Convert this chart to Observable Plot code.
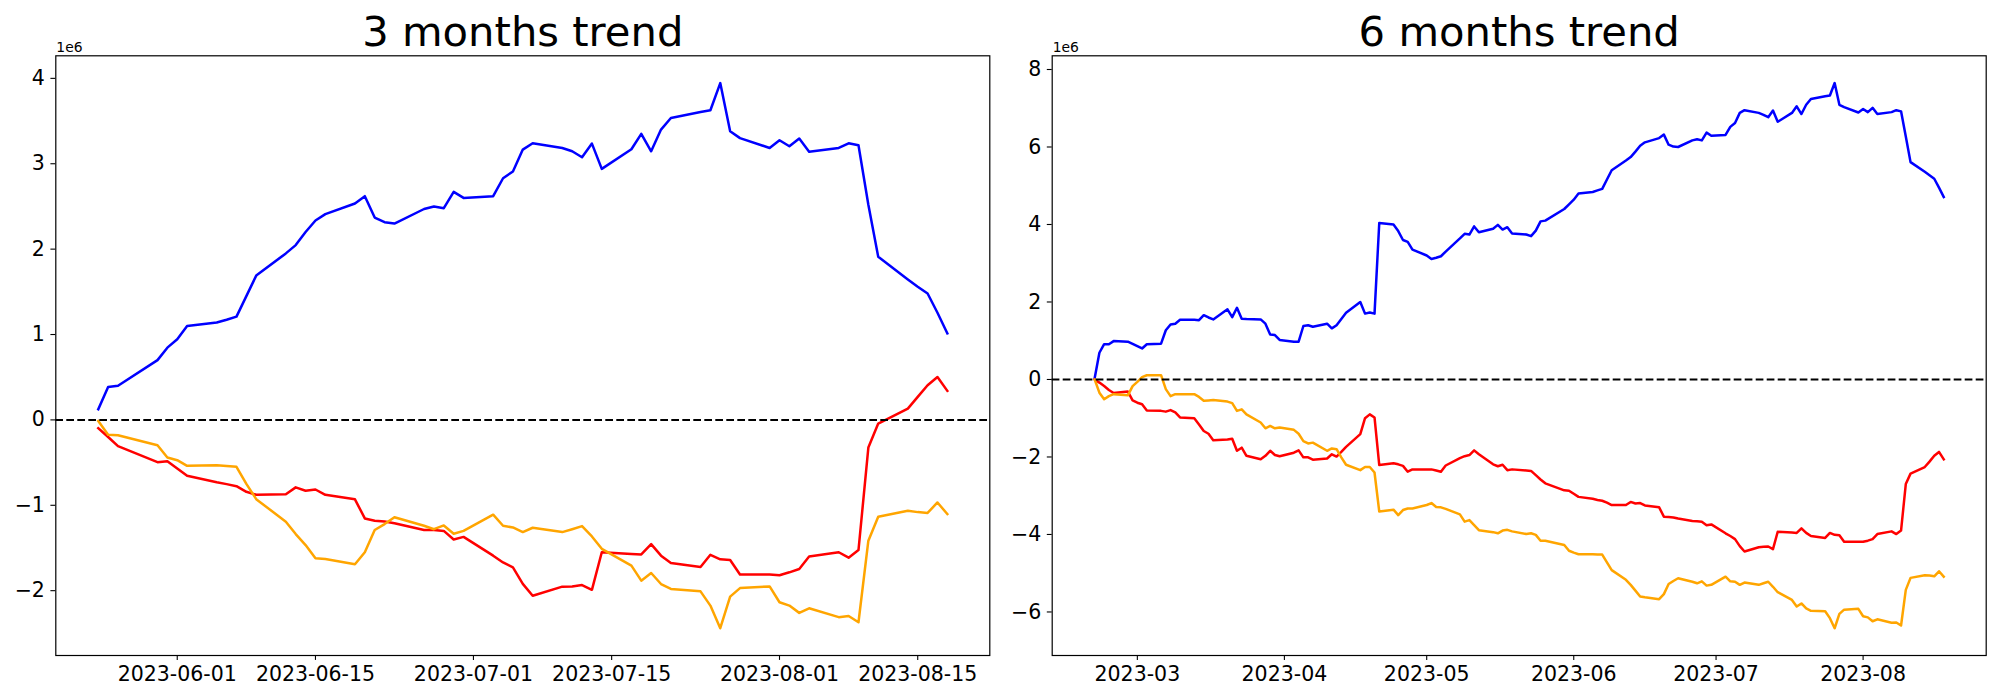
<!DOCTYPE html>
<html>
<head>
<meta charset="utf-8">
<script src="https://cdn.jsdelivr.net/npm/d3@7"></script>
<script src="https://cdn.jsdelivr.net/npm/@observablehq/plot@0.6"></script>
<style>
  html, body { margin: 0; padding: 0; background: #ffffff; }
  #wrap { position: relative; width: 2000px; height: 700px; background: #ffffff; overflow: hidden; }
  .panel { position: absolute; top: 0; width: 1000px; height: 700px; }
  #p1 { left: 0; }
  #p2 { left: 1000px; }
</style>
</head>
<body>
<div id="wrap"><div class="panel" id="p1"></div><div class="panel" id="p2"></div></div>
<script>
// ---------- 3 months panel data (values in units of 1e6) ----------
const dates3m = [
  "2023-05-24","2023-05-25","2023-05-26","2023-05-30","2023-05-31",
  "2023-06-01","2023-06-02","2023-06-05","2023-06-06","2023-06-07","2023-06-08","2023-06-09","2023-06-12","2023-06-13","2023-06-14","2023-06-15","2023-06-16","2023-06-19","2023-06-20","2023-06-21","2023-06-22","2023-06-23","2023-06-26","2023-06-27","2023-06-28","2023-06-29","2023-06-30",
  "2023-07-03","2023-07-04","2023-07-05","2023-07-06","2023-07-07","2023-07-10","2023-07-11","2023-07-12","2023-07-13","2023-07-14","2023-07-17","2023-07-18","2023-07-19","2023-07-20","2023-07-21","2023-07-24","2023-07-25","2023-07-26","2023-07-27","2023-07-28","2023-07-31",
  "2023-08-01","2023-08-02","2023-08-03","2023-08-04","2023-08-07","2023-08-08","2023-08-09","2023-08-10","2023-08-11","2023-08-14","2023-08-15","2023-08-16","2023-08-17","2023-08-18"
];
const blue3m = [
  0.125, 0.386, 0.40, 0.70, 0.846,
  0.944, 1.10, 1.14, 1.173, 1.21, 1.45, 1.69, 1.95, 2.047, 2.20, 2.336, 2.41, 2.534, 2.62, 2.37, 2.316, 2.30, 2.47, 2.50, 2.48, 2.67, 2.60,
  2.62, 2.83, 2.91, 3.166, 3.24, 3.185, 3.146, 3.076, 3.236, 2.94, 3.17, 3.35, 3.146, 3.40, 3.536, 3.606, 3.626, 3.945, 3.38, 3.30, 3.185,
  3.275, 3.205, 3.295, 3.14, 3.185, 3.24, 3.216, 2.52, 1.91, 1.645, 1.56, 1.48, 1.255, 1.014
];
const red3m = [
  -0.097, -0.20, -0.308, -0.495, -0.483,
  -0.57, -0.655, -0.73, -0.752, -0.776, -0.842, -0.877, -0.87, -0.79, -0.83, -0.815, -0.877, -0.93, -1.154, -1.18, -1.19, -1.21, -1.29, -1.29, -1.30, -1.40, -1.37,
  -1.59, -1.67, -1.727, -1.92, -2.06, -1.953, -1.95, -1.934, -1.99, -1.55, -1.57, -1.575, -1.455, -1.59, -1.677, -1.723, -1.58, -1.633, -1.64, -1.81, -1.81,
  -1.82, -1.785, -1.746, -1.60, -1.55, -1.614, -1.525, -0.324, -0.043, 0.132, 0.27, 0.406, 0.503, 0.34
];
const orange3m = [
  -0.012, -0.175, -0.18, -0.296, -0.44,
  -0.472, -0.538, -0.53, -0.54, -0.55, -0.75, -0.928, -1.193, -1.337, -1.466, -1.62, -1.63, -1.69, -1.55, -1.29, -1.22, -1.14, -1.24, -1.28, -1.236, -1.333, -1.30,
  -1.11, -1.24, -1.26, -1.314, -1.263, -1.314, -1.28, -1.244, -1.365, -1.51, -1.707, -1.883, -1.793, -1.922, -1.98, -2.008, -2.175, -2.44, -2.07, -1.97, -1.95,
  -2.136, -2.175, -2.26, -2.206, -2.31, -2.296, -2.37, -1.415, -1.134, -1.064, -1.08, -1.09, -0.967, -1.103
];
const xTicks3m = ["2023-06-01","2023-06-15","2023-07-01","2023-07-15","2023-08-01","2023-08-15"];
const yTicks3m = [-2, -1, 0, 1, 2, 3, 4];

// ---------- 6 months panel data (values in units of 1e6) ----------
const dates6m = [
  "2023-02-20","2023-02-21","2023-02-22","2023-02-23","2023-02-24","2023-02-27","2023-02-28",
  "2023-03-01","2023-03-02","2023-03-03","2023-03-06","2023-03-07","2023-03-08","2023-03-09","2023-03-10","2023-03-13","2023-03-14","2023-03-15","2023-03-16","2023-03-17","2023-03-20","2023-03-21","2023-03-22","2023-03-23","2023-03-24","2023-03-27","2023-03-28","2023-03-29","2023-03-30","2023-03-31",
  "2023-04-03","2023-04-04","2023-04-05","2023-04-06","2023-04-07","2023-04-10","2023-04-11","2023-04-12","2023-04-13","2023-04-14","2023-04-17","2023-04-18","2023-04-19","2023-04-20","2023-04-21","2023-04-24","2023-04-25","2023-04-26","2023-04-27","2023-04-28",
  "2023-05-01","2023-05-02","2023-05-03","2023-05-04","2023-05-05","2023-05-08","2023-05-09","2023-05-10","2023-05-11","2023-05-12","2023-05-15","2023-05-16","2023-05-17","2023-05-18","2023-05-19","2023-05-22","2023-05-23","2023-05-24","2023-05-25","2023-05-26","2023-05-30","2023-05-31",
  "2023-06-01","2023-06-02","2023-06-05","2023-06-06","2023-06-07","2023-06-08","2023-06-09","2023-06-12","2023-06-13","2023-06-14","2023-06-15","2023-06-16","2023-06-19","2023-06-20","2023-06-21","2023-06-22","2023-06-23","2023-06-26","2023-06-27","2023-06-28","2023-06-29","2023-06-30",
  "2023-07-03","2023-07-04","2023-07-05","2023-07-06","2023-07-07","2023-07-10","2023-07-11","2023-07-12","2023-07-13","2023-07-14","2023-07-17","2023-07-18","2023-07-19","2023-07-20","2023-07-21","2023-07-24","2023-07-25","2023-07-26","2023-07-27","2023-07-28","2023-07-31",
  "2023-08-01","2023-08-02","2023-08-03","2023-08-04","2023-08-07","2023-08-08","2023-08-09","2023-08-10","2023-08-11","2023-08-14","2023-08-15","2023-08-16","2023-08-17","2023-08-18"
];
const blue6m = [
  0.03, 0.69, 0.91, 0.91, 0.99, 0.975, 0.92,
  0.86, 0.80, 0.91, 0.925, 1.27, 1.42, 1.44, 1.54, 1.54, 1.53, 1.66, 1.60, 1.55, 1.81, 1.61, 1.85, 1.57, 1.56, 1.55, 1.44, 1.16, 1.145, 1.02,
  0.975, 0.975, 1.38, 1.40, 1.36, 1.44, 1.32, 1.40, 1.56, 1.72, 2.00, 1.70, 1.73, 1.70, 4.04, 4.00, 3.83, 3.60, 3.55, 3.35,
  3.20, 3.11, 3.14, 3.18, 3.30, 3.64, 3.76, 3.74, 3.95, 3.80, 3.89, 3.99, 3.87, 3.93, 3.77, 3.74, 3.70, 3.84, 4.08, 4.10, 4.40, 4.52,
  4.64, 4.80, 4.84, 4.88, 4.92, 5.16, 5.40, 5.65, 5.74, 5.88, 6.03, 6.12, 6.23, 6.32, 6.06, 6.01, 6.00, 6.17, 6.20, 6.17, 6.37, 6.29,
  6.31, 6.52, 6.62, 6.88, 6.95, 6.88, 6.83, 6.77, 6.94, 6.65, 6.88, 7.05, 6.85, 7.09, 7.24, 7.31, 7.33, 7.65, 7.09, 7.03, 6.89,
  6.98, 6.90, 7.01, 6.85, 6.90, 6.95, 6.92, 6.27, 5.61, 5.36, 5.27, 5.18, 4.95, 4.71
];
const red6m = [
  0.0, -0.08, -0.17, -0.27, -0.35, -0.31, -0.54,
  -0.60, -0.64, -0.80, -0.81, -0.83, -0.79, -0.85, -0.98, -1.00, -1.16, -1.33, -1.40, -1.57, -1.55, -1.53, -1.84, -1.76, -1.97, -2.06, -1.97, -1.84, -1.95, -1.98,
  -1.89, -1.83, -2.01, -2.01, -2.07, -2.04, -1.93, -1.99, -1.87, -1.74, -1.41, -1.00, -0.90, -0.98, -2.21, -2.16, -2.19, -2.23, -2.38, -2.32,
  -2.32, -2.32, -2.35, -2.38, -2.22, -2.03, -1.98, -1.95, -1.83, -1.93, -2.19, -2.24, -2.20, -2.34, -2.32, -2.35, -2.36, -2.47, -2.58, -2.68, -2.86, -2.87,
  -2.95, -3.03, -3.08, -3.11, -3.13, -3.18, -3.24, -3.24, -3.16, -3.20, -3.19, -3.25, -3.30, -3.54, -3.55, -3.56, -3.59, -3.65, -3.66, -3.67, -3.76, -3.74,
  -3.97, -4.04, -4.12, -4.30, -4.44, -4.33, -4.32, -4.31, -4.38, -3.93, -3.95, -3.96, -3.84, -3.96, -4.04, -4.09, -3.96, -4.01, -4.02, -4.19, -4.19,
  -4.19, -4.16, -4.12, -3.99, -3.92, -3.99, -3.90, -2.70, -2.43, -2.26, -2.12, -1.97, -1.87, -2.06
];
const orange6m = [
  0.0, -0.34, -0.51, -0.43, -0.38, -0.41, -0.17,
  -0.06, 0.06, 0.11, 0.11, -0.25, -0.43, -0.38, -0.38, -0.38, -0.45, -0.55, -0.54, -0.53, -0.57, -0.61, -0.81, -0.77, -0.90, -1.11, -1.26, -1.20, -1.26, -1.24,
  -1.30, -1.40, -1.59, -1.65, -1.63, -1.84, -1.78, -1.80, -2.01, -2.20, -2.34, -2.26, -2.26, -2.40, -3.41, -3.36, -3.50, -3.37, -3.33, -3.33,
  -3.24, -3.19, -3.29, -3.30, -3.34, -3.48, -3.67, -3.63, -3.76, -3.89, -3.94, -3.97, -3.90, -3.88, -3.92, -3.99, -3.97, -4.01, -4.16, -4.16, -4.27, -4.42,
  -4.47, -4.51, -4.51, -4.52, -4.52, -4.72, -4.92, -5.17, -5.30, -5.45, -5.60, -5.62, -5.67, -5.54, -5.28, -5.20, -5.13, -5.22, -5.26, -5.21, -5.32, -5.30,
  -5.09, -5.21, -5.22, -5.30, -5.24, -5.30, -5.26, -5.22, -5.35, -5.49, -5.69, -5.86, -5.78, -5.91, -5.97, -5.98, -6.16, -6.42, -6.05, -5.94, -5.92,
  -6.11, -6.14, -6.24, -6.19, -6.28, -6.27, -6.35, -5.43, -5.12, -5.05, -5.06, -5.08, -4.95, -5.09
];
const xTicks6m = ["2023-03-01","2023-04-01","2023-05-01","2023-06-01","2023-07-01","2023-08-01"];
const yTicks6m = [-6, -4, -2, 0, 2, 4, 6, 8];

const titles = ["3 months trend", "6 months trend"];
const offsetLabel = "1e6";
const seriesColors = {blue: "#0000ff", red: "#ff0000", orange: "#ffa500"};

// ---------- drawing ----------
const parse = d3.utcParse("%Y-%m-%d");
const minus = d => (d < 0 ? "\u2212" + Math.abs(d) : String(d));

function panel({dates, blue, red, orange, title, xTicks, xFormat, yTicks, marginLeft, marginRight}) {
  const D = dates.map(parse);
  const rows = vals => D.map((d, i) => ({date: d, value: vals[i]}));
  const all = [...blue, ...red, ...orange];
  const [lo, hi] = d3.extent(all);
  const py = (hi - lo) * 0.05;
  const [d0, d1] = d3.extent(D);
  const px = (d1 - d0) * 0.05;
  const lineOpts = c => ({x: "date", y: "value", stroke: c, strokeWidth: 2.5, strokeLinejoin: "round", strokeLinecap: "square"});
  return Plot.plot({
    width: 1000,
    height: 700,
    marginTop: 55.3,
    marginBottom: 45,
    marginLeft,
    marginRight,
    style: {fontFamily: "'DejaVu Sans', sans-serif", fontSize: "20px", color: "black", background: "white", overflow: "visible"},
    x: {type: "utc", domain: [new Date(+d0 - px), new Date(+d1 + px)]},
    y: {domain: [lo - py, hi + py]},
    marks: [
      Plot.axisX({ticks: xTicks.map(parse), tickFormat: xFormat, tickSize: 4.9, tickPadding: 6, label: null, fontSize: 20.5, strokeWidth: 1.1}),
      Plot.axisY({ticks: yTicks, tickFormat: minus, tickSize: 4.9, tickPadding: 6, label: null, fontSize: 20.5, strokeWidth: 1.1}),
      Plot.lineY(rows(blue), lineOpts(seriesColors.blue)),
      Plot.lineY(rows(red), lineOpts(seriesColors.red)),
      Plot.lineY(rows(orange), lineOpts(seriesColors.orange)),
      Plot.ruleY([0], {stroke: "black", strokeWidth: 2, strokeDasharray: "7.7,3.3"}),
      Plot.frame({stroke: "black", strokeWidth: 1.2}),
      Plot.text([title], {text: d => d, frameAnchor: "top", lineAnchor: "bottom", dy: -10, fontSize: 41.7}),
      Plot.text([offsetLabel], {text: d => d, frameAnchor: "top-left", textAnchor: "start", lineAnchor: "bottom", dy: -4, dx: 0.5, fontSize: 13.9})
    ]
  });
}

document.getElementById("p1").appendChild(panel({
  dates: dates3m, blue: blue3m, red: red3m, orange: orange3m, title: titles[0],
  xTicks: xTicks3m, xFormat: d3.utcFormat("%Y-%m-%d"), yTicks: yTicks3m,
  marginLeft: 55.3, marginRight: 10.7
}));
document.getElementById("p2").appendChild(panel({
  dates: dates6m, blue: blue6m, red: red6m, orange: orange6m, title: titles[1],
  xTicks: xTicks6m, xFormat: d3.utcFormat("%Y-%m"), yTicks: yTicks6m,
  marginLeft: 51.7, marginRight: 14.3
}));
</script>
</body>
</html>
